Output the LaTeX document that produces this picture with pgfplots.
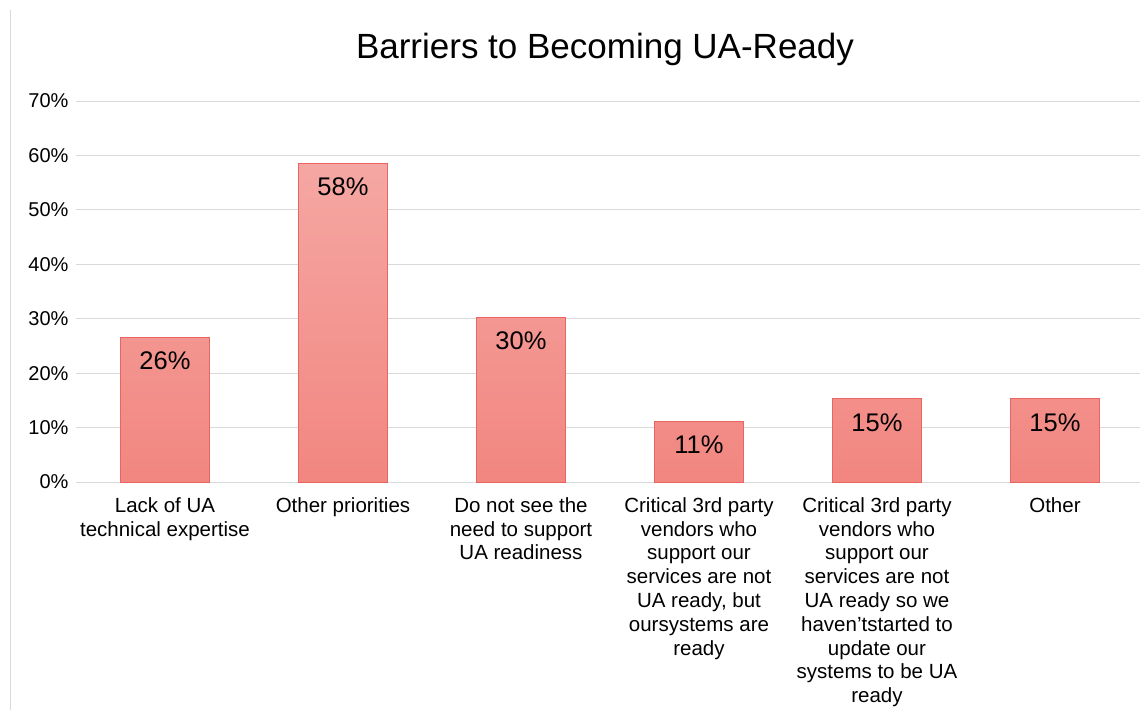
\documentclass[border=0pt]{standalone}
\usepackage{fontspec}
\setmainfont{Liberation Sans}
\usepackage{pgfplots}
\pgfplotsset{compat=1.18}
\definecolor{gridc}{HTML}{D9D9D9}
\definecolor{bartop}{HTML}{F5A7A3}
\definecolor{barbot}{HTML}{F28680}
\definecolor{barline}{HTML}{E8665F}
\begin{document}
\begin{tikzpicture}[x=1pt,y=1pt]
\useasboundingbox (0,0) rectangle (1140,710);
\draw[gridc, line width=0.8pt] (10.5,700) -- (10.5,0);
\node[font=\fontsize{35}{40}\selectfont] at (605,661) {Barriers to Becoming UA-Ready};
\begin{axis}[
  at={(76pt,228pt)}, anchor=south west,
  width=1068pt, height=381pt, scale only axis,
  xmin=-0.5, xmax=5.5, ymin=0, ymax=70,
  ytick={0,10,...,70},
  yticklabel={\pgfmathprintnumber{\tick}\%},
  /pgf/number format/assume math mode=true,
  ymajorgrids, major grid style={gridc, line width=0.9pt},
  axis x line*=bottom,
  axis y line*=left,
  x axis line style={draw=gridc, line width=0.9pt},
  y axis line style={draw=none},
  major tick length=0pt,
  yticklabel style={font=\fontsize{20}{24}\selectfont, anchor=east, xshift=-4pt},
  xtick={0,...,5},
  xticklabels={
    {Lack of UA\\technical expertise},
    {Other priorities},
    {Do not see the\\need to support\\UA readiness},
    {Critical 3rd party\\vendors who\\support our\\services are not\\UA ready, but\\oursystems are\\ready},
    {Critical 3rd party\\vendors who\\support our\\services are not\\UA ready so we\\haven’tstarted to\\update our\\systems to be UA\\ready},
    {Other}},
  xticklabel style={font=\fontsize{20.5}{23.8}\selectfont, align=center, anchor=north, yshift=-12pt},
  ybar, bar width=89pt,
  point meta=explicit,
  nodes near coords={\pgfmathprintnumber{\pgfplotspointmeta}\%},
  nodes near coords style={font=\fontsize{25.5}{30}\selectfont, anchor=north, yshift=-11pt, black},
  clip=false,
]
\addplot[shade, top color=bartop, bottom color=barbot, draw=barline, line width=0.9pt]
  coordinates {(0,26.6) [26] (1,58.6) [58] (2,30.3) [30] (3,11.2) [11] (4,15.3) [15] (5,15.3) [15]};
\end{axis}
\end{tikzpicture}
\end{document}
